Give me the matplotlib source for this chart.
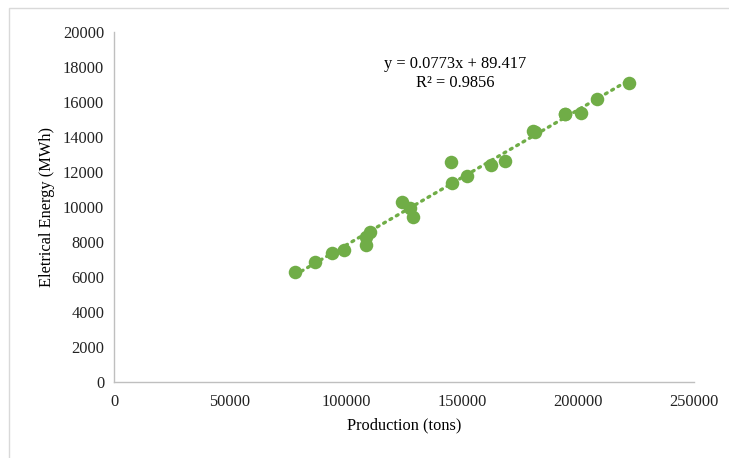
import matplotlib
matplotlib.use("Agg")
import matplotlib.pyplot as plt
from matplotlib.patches import Rectangle
import numpy as np

production = [78000, 86600, 94000, 99100, 108600, 108600, 110300, 124200, 127600,
              128900, 145300, 145700, 152200, 162300, 168500, 180600, 181400,
              194300, 194500, 201300, 208200, 222000]
energy = [6310, 6830, 7360, 7560, 7840, 8310, 8580, 10280, 9960, 9430, 12550,
          11360, 11770, 12410, 12600, 14320, 14270, 15340, 15300, 15390, 16170, 17110]

slope = 0.0773
intercept = 89.417
eq_text = "y = 0.0773x + 89.417"
r2_text = "R² = 0.9856"

plt.rcParams['font.family'] = ['Liberation Serif', 'DejaVu Serif']
fig = plt.figure(figsize=(7.29, 4.58), dpi=100)
ax = fig.add_axes([114/729, 1-382/458, 580/729, 350/458])

green = '#70AD47'
ax.scatter(production, energy, s=95, color=green, zorder=3, linewidths=0)
xs = np.array([min(production), max(production)])
ax.plot(xs, slope*xs + intercept, linestyle=(0, (0.6, 1.6)), color=green,
        lw=2.4, dash_capstyle='round', zorder=2)

ax.set_xlim(0, 250000)
ax.set_ylim(0, 20000)
ax.set_xticks(np.arange(0, 250001, 50000))
ax.set_yticks(np.arange(0, 20001, 2000))
ax.tick_params(length=0, labelsize=11.8, colors='#222222')
ax.tick_params(axis='y', pad=7)
ax.tick_params(axis='x', pad=9)
for s in ['top', 'right']:
    ax.spines[s].set_visible(False)
for s in ['left', 'bottom']:
    ax.spines[s].set_color('#BFBFBF')
    ax.spines[s].set_linewidth(1.0)

ax.set_xlabel('Production (tons)', fontsize=11.8, labelpad=5)
ax.set_ylabel('Eletrical Energy (MWh)', fontsize=11.8, labelpad=6)

fig.text(455/729, 1-64/458, eq_text, ha='center', va='center', fontsize=11.8)
fig.text(455/729, 1-83/458, r2_text, ha='center', va='center', fontsize=11.8)

fig.patches.append(Rectangle((9/729, -0.1), 1.2, 1-8/458+0.1, transform=fig.transFigure,
                             fill=False, edgecolor='#D9D9D9', lw=1.0))

fig.savefig('out.png', dpi=100)
